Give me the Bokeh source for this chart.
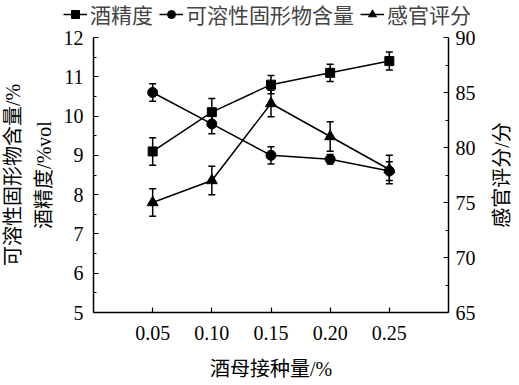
import math
from bokeh.plotting import figure
from bokeh.models import (Range1d, LinearAxis, FixedTicker, PrintfTickFormatter,
                          Whisker, ColumnDataSource, TeeHead, Legend, LegendItem, Label)
from bokeh.embed import file_html
from bokeh.resources import INLINE

# ---- data ----
x = [0.05, 0.10, 0.15, 0.20, 0.25]
alcohol = [9.1, 10.1, 10.8, 11.1, 11.4]
alcohol_err = [0.35, 0.35, 0.23, 0.22, 0.23]
solids = [10.6, 9.8, 9.0, 8.9, 8.6]
solids_err = [0.22, 0.25, 0.22, 0.12, 0.24]
sensory = [75.0, 77.0, 84.0, 81.0, 78.0]
sensory_err = [1.25, 1.3, 1.2, 1.35, 1.3]

x_ticks = [0.05, 0.10, 0.15, 0.20, 0.25]
left_ticks = [5, 6, 7, 8, 9, 10, 11, 12]
left_minor = [5.5, 6.5, 7.5, 8.5, 9.5, 10.5, 11.5]
right_ticks = [65, 70, 75, 80, 85, 90]
right_minor = [67.5, 72.5, 77.5, 82.5, 87.5]

labels = ["酒精度", "可溶性固形物含量", "感官评分"]
x_label = "酒母接种量/%"
left_label = "可溶性固形物含量/%\n酒精度/%vol"
right_label = "感官评分/分"

# axis limits
X0, X1 = 0.0, 0.30
L0, L1 = 5.0, 12.0
R0, R1 = 65.0, 90.0

# ---- layout (pixels) ----
W, H = 519, 385
AX_LEFT, AX_RIGHT, AX_TOP, AX_BOTTOM = 93, 448, 37, 312

def ext(lo, hi, a, b, total):
    # data lo..hi spans pixels a..b (a<b); extend to 0..total
    k = (hi - lo) / (b - a)
    return lo - a * k, hi + (total - b) * k

xr = ext(X0, X1, AX_LEFT, AX_RIGHT, W)
# vertical: pixel measured from bottom
lr = ext(L0, L1, H - AX_BOTTOM, H - AX_TOP, H)
rr = ext(R0, R1, H - AX_BOTTOM, H - AX_TOP, H)

FONT = "Liberation Serif, Noto Sans CJK SC"

p = figure(width=W, height=H, x_range=Range1d(*xr), y_range=Range1d(*lr),
           output_backend="svg", toolbar_location=None, title=None,
           min_border_left=0, min_border_right=0, min_border_top=0, min_border_bottom=0)
p.extra_y_ranges = {"right": Range1d(*rr)}
p.outline_line_color = None
p.grid.visible = False
p.background_fill_color = "white"

def style_axis(ax):
    ax.axis_line_color = "black"
    ax.axis_line_width = 1.5
    ax.major_tick_in = 5
    ax.major_tick_out = 0
    ax.minor_tick_in = 3
    ax.minor_tick_out = 0
    ax.major_tick_line_width = 1.2
    ax.minor_tick_line_width = 1.2
    ax.major_label_text_font = FONT
    ax.major_label_text_font_size = "20px"
    ax.major_label_text_color = "black"
    ax.axis_label_text_font = FONT
    ax.axis_label_text_font_size = "20px"
    ax.axis_label_text_font_style = "normal"
    ax.axis_label_text_color = "black"

xa = p.xaxis[0]
style_axis(xa)
xa.ticker = FixedTicker(ticks=x_ticks)
xa.formatter = PrintfTickFormatter(format="%.2f")
xa.axis_label = x_label
xa.major_label_standoff = 13
xa.axis_label_standoff = 15
xa.bounds = (X0, X1)
xa.fixed_location = L0

ya = p.yaxis[0]
style_axis(ya)
ya.ticker = FixedTicker(ticks=left_ticks, minor_ticks=left_minor)
ya.axis_label = left_label
ya.axis_label_text_line_height = 1.4
ya.major_label_standoff = 10
ya.axis_label_standoff = 6
ya.bounds = (L0, L1)
ya.fixed_location = X0

ra = LinearAxis(y_range_name="right")
style_axis(ra)
ra.ticker = FixedTicker(ticks=right_ticks, minor_ticks=right_minor)
ra.major_label_standoff = 7
ra.bounds = (R0, R1)
ra.fixed_location = X1
p.add_layout(ra, "right")

p.add_layout(Label(x=AX_RIGHT + 53, x_units="screen", y=(R0 + R1) / 2, y_range_name="right",
                   text=right_label, angle=math.pi / 2, text_align="center",
                   text_baseline="middle", text_font=FONT, text_font_size="20px",
                   text_color="black"))

src_a = ColumnDataSource(dict(x=x, y=alcohol, lo=[v - e for v, e in zip(alcohol, alcohol_err)],
                              hi=[v + e for v, e in zip(alcohol, alcohol_err)]))
src_s = ColumnDataSource(dict(x=x, y=solids, lo=[v - e for v, e in zip(solids, solids_err)],
                              hi=[v + e for v, e in zip(solids, solids_err)]))
src_t = ColumnDataSource(dict(x=x, y=sensory, lo=[v - e for v, e in zip(sensory, sensory_err)],
                              hi=[v + e for v, e in zip(sensory, sensory_err)]))

for src, rn in [(src_a, "default"), (src_s, "default"), (src_t, "right")]:
    w = Whisker(source=src, base="x", upper="hi", lower="lo", dimension="height",
                line_color="black", line_width=1.5,
                upper_head=TeeHead(size=7, line_color="black", line_width=1.5),
                lower_head=TeeHead(size=7, line_color="black", line_width=1.5))
    if rn != "default":
        w.y_range_name = rn
    p.add_layout(w)

l1 = p.line("x", "y", source=src_a, line_color="black", line_width=1.5)
m1 = p.scatter("x", "y", source=src_a, marker="square", size=9, color="black")
l2 = p.line("x", "y", source=src_s, line_color="black", line_width=1.5)
m2 = p.scatter("x", "y", source=src_s, marker="circle", size=10, color="black")
l3 = p.line("x", "y", source=src_t, line_color="black", line_width=1.5, y_range_name="right")
m3 = p.scatter("x", "y", source=src_t, marker="triangle", size=11, color="black", y_range_name="right")

legend = Legend(items=[LegendItem(label=labels[0], renderers=[l1, m1]),
                       LegendItem(label=labels[1], renderers=[l2, m2]),
                       LegendItem(label=labels[2], renderers=[l3, m3])],
                orientation="horizontal", location=(63, H - 29))
legend.border_line_color = None
legend.background_fill_alpha = 0
legend.label_text_font = FONT
legend.label_text_font_size = "21px"
legend.glyph_width = 24
legend.glyph_height = 20
legend.label_standoff = 3
legend.spacing = 6
legend.padding = 0
legend.margin = 0
p.add_layout(legend, "center")

open("out.html", "w").write(file_html(p, INLINE))
